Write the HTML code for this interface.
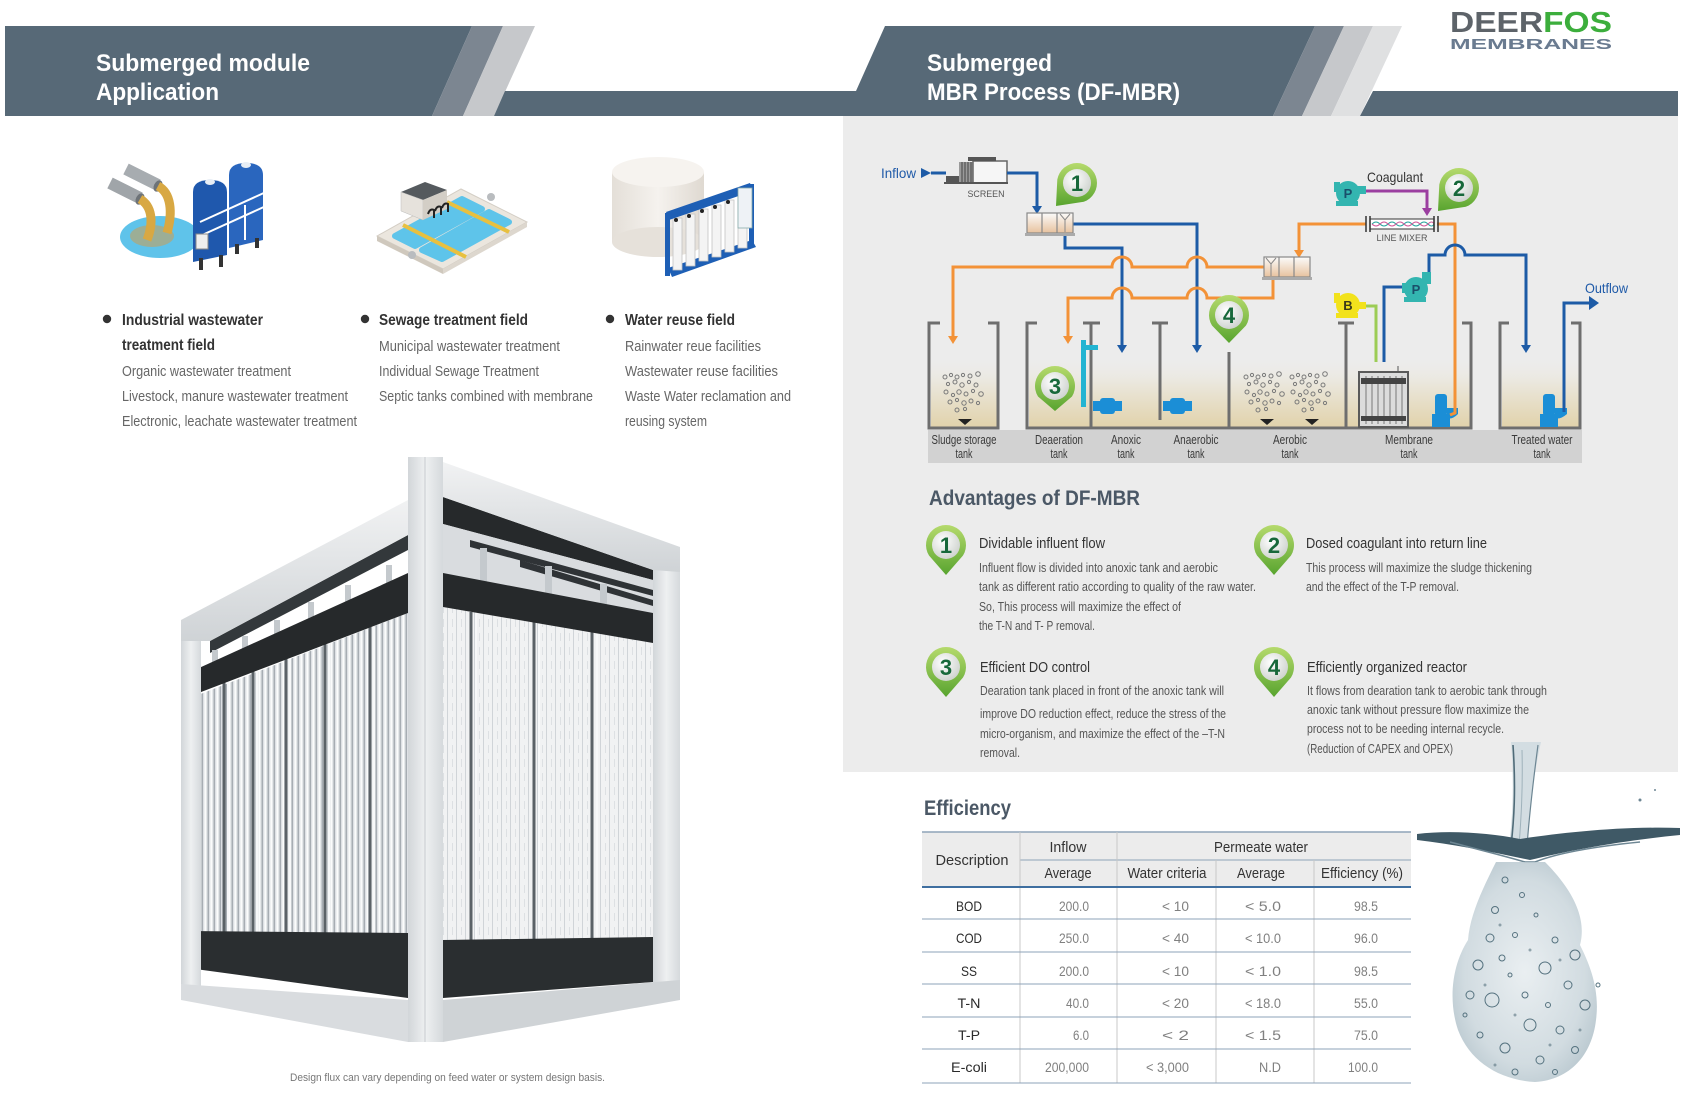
<!DOCTYPE html>
<html><head><meta charset="utf-8"><style>
html,body{margin:0;padding:0;background:#fff;}
svg{display:block;}
text{font-family:"Liberation Sans",Arial,sans-serif;}
</style></head><body>
<svg width="1683" height="1095" viewBox="0 0 1683 1095" xmlns="http://www.w3.org/2000/svg">
<defs>
 <linearGradient id="gpin" x1="0" y1="0" x2="0" y2="1"><stop offset="0" stop-color="#b5da6c"/><stop offset="1" stop-color="#58a42f"/></linearGradient>
 <radialGradient id="gwh" cx="0.4" cy="0.35" r="0.75"><stop offset="0" stop-color="#ffffff"/><stop offset="1" stop-color="#c9cec9"/></radialGradient>
 <linearGradient id="gliq" x1="0" y1="0" x2="0" y2="1"><stop offset="0" stop-color="#ececec" stop-opacity="0"/><stop offset="0.35" stop-color="#ebe8df"/><stop offset="1" stop-color="#e1d2aa"/></linearGradient>
 <linearGradient id="gbox" x1="0" y1="0" x2="0" y2="1"><stop offset="0" stop-color="#fbfbfb"/><stop offset="1" stop-color="#e8c29e"/></linearGradient>
 <linearGradient id="gframe" x1="0" y1="0" x2="1" y2="0"><stop offset="0" stop-color="#d2d6d9"/><stop offset="0.5" stop-color="#eef0f1"/><stop offset="1" stop-color="#d5d9dc"/></linearGradient>
 <linearGradient id="gbeam" x1="0" y1="0" x2="0" y2="1"><stop offset="0" stop-color="#f1f2f3"/><stop offset="1" stop-color="#cfd3d6"/></linearGradient>
 <linearGradient id="gcyl" x1="0" y1="0" x2="1" y2="0"><stop offset="0" stop-color="#e4dfd8"/><stop offset="0.5" stop-color="#f5f2ee"/><stop offset="1" stop-color="#dfd9d1"/></linearGradient>
 <pattern id="ptL" width="6" height="10" patternUnits="userSpaceOnUse"><rect width="6" height="10" fill="#e3e6e9"/><rect x="3.5" width="1.6" height="10" fill="#a7adb3"/><rect x="0.5" width="1.6" height="10" fill="#fbfcfc"/></pattern>
 <pattern id="ptR" width="9" height="14" patternUnits="userSpaceOnUse"><rect width="9" height="14" fill="#f1f2f3"/><rect x="6" width="1" height="14" fill="#d0d4d8"/><rect x="2" y="3" width="1" height="8" fill="#dde0e3"/></pattern>
 <radialGradient id="gsplash" cx="0.5" cy="0.5" r="0.6"><stop offset="0" stop-color="#e6ecef"/><stop offset="0.7" stop-color="#c9d5db"/><stop offset="1" stop-color="#a9bbc4"/></radialGradient>
</defs>

<!-- ================= HEADERS ================= -->
<polygon points="5,26 472,26 432,116 5,116" fill="#576977"/>
<polygon points="472,26 503,26 463,116 432,116" fill="#7c8691"/>
<polygon points="503,26 535,26 494,116 463,116" fill="#c6c8cb"/>
<rect x="843" y="116" width="835" height="656" fill="#ececec"/>
<polygon points="885,26 1315,26 1273,116 494,116 505,91 856,91" fill="#576977"/>
<polygon points="1315,26 1344,26 1302,116 1273,116" fill="#7c8691"/>
<polygon points="1344,26 1373,26 1331,116 1302,116" fill="#c6c8cb"/>
<polygon points="1373,26 1402,26 1360,116 1331,116" fill="#dfe0e1"/>
<polygon points="1373,91 1678,91 1678,116 1360,116" fill="#576977"/>

<text x="96" y="71" font-size="24" font-weight="bold" fill="#fff" textLength="214" lengthAdjust="spacingAndGlyphs">Submerged module</text>
<text x="96" y="100" font-size="24" font-weight="bold" fill="#fff" textLength="123" lengthAdjust="spacingAndGlyphs">Application</text>
<text x="927" y="71" font-size="24" font-weight="bold" fill="#fff" textLength="125" lengthAdjust="spacingAndGlyphs">Submerged</text>
<text x="927" y="100" font-size="24" font-weight="bold" fill="#fff" textLength="253" lengthAdjust="spacingAndGlyphs">MBR Process (DF-MBR)</text>

<text x="1450" y="32" font-size="29" font-weight="bold" textLength="162" lengthAdjust="spacingAndGlyphs"><tspan fill="#5d6369">DEER</tspan><tspan fill="#3cae3c">FOS</tspan></text>
<text x="1450" y="49" font-size="15" font-weight="bold" fill="#6a7b90" textLength="162" lengthAdjust="spacingAndGlyphs">MEMBRANES</text>

<!-- ================= ICONS ================= -->
<ellipse cx="160" cy="237" rx="40" ry="21" fill="#5fc3ea"/>
<ellipse cx="152" cy="236" rx="22" ry="11" fill="#b0a77a" opacity="0.75"/>
<line x1="110" y1="183" x2="140" y2="198" stroke="#a0a5a9" stroke-width="12"/>
<line x1="126" y1="169" x2="158" y2="185" stroke="#a7acb0" stroke-width="12"/>
<ellipse cx="140" cy="199" rx="4" ry="6" fill="#6d7378" transform="rotate(27 140 199)"/>
<ellipse cx="158" cy="186" rx="4" ry="6" fill="#6d7378" transform="rotate(27 158 186)"/>
<path d="M140 199 C152 206 154 222 147 240" stroke="#d8a843" stroke-width="9" fill="none"/>
<path d="M158 186 C171 193 173 212 167 233" stroke="#d8a843" stroke-width="9" fill="none"/>
<path d="M229 175 Q229 163 246 163 Q263 163 263 175 L263 240 L229 248 Z" fill="#2a66be"/>
<path d="M193 192 Q193 180 210 180 Q227 180 227 192 L227 255 L193 262 Z" fill="#1f58ad"/>
<ellipse cx="210" cy="182" rx="5" ry="3" fill="#e8eef5"/>
<ellipse cx="246" cy="165" rx="5" ry="3" fill="#e8eef5"/>
<polyline points="200,236 266,206" stroke="#fff" stroke-width="2" fill="none"/>
<polyline points="200,222 266,192" stroke="#fff" stroke-width="2" fill="none"/>
<line x1="245" y1="205" x2="245" y2="240" stroke="#fff" stroke-width="2"/>
<rect x="199" y="258" width="4" height="12" fill="#333"/><rect x="219" y="255" width="4" height="12" fill="#333"/>
<rect x="235" y="244" width="4" height="10" fill="#333"/><rect x="255" y="238" width="4" height="10" fill="#333"/>
<rect x="196" y="234" width="12" height="15" fill="#eee" stroke="#888"/>

<polygon points="377,236 461,189 527,222 443,269" fill="#ebe6de" stroke="#d3cdc4"/>
<polygon points="377,236 443,269 443,274 377,241" fill="#cfc8bd"/>
<polygon points="443,269 527,222 527,227 443,274" fill="#ddd7ce"/>
<polygon points="395,236 462,199 482,209 415,246" fill="#5ec4ea" stroke="#5ec4ea" stroke-width="6" stroke-linejoin="round"/>
<polygon points="422,250 489,212 509,222 442,259" fill="#5ec4ea" stroke="#5ec4ea" stroke-width="6" stroke-linejoin="round"/>
<line x1="403" y1="225" x2="466" y2="257" stroke="#e8c040" stroke-width="4"/>
<line x1="447" y1="202" x2="509" y2="232" stroke="#e8c040" stroke-width="4"/>
<polygon points="401,192 425,182 447,190 423,200" fill="#555a5e"/>
<polygon points="401,192 423,200 423,220 401,211" fill="#e6e2dc" stroke="#bbb" stroke-width="0.5"/>
<polygon points="423,200 447,190 447,209 423,220" fill="#d3cec6"/>
<path d="M428 214 q2 -6 6 -4 v8 M435 211 q2 -6 6 -4 v8 M442 208 q2 -6 6 -4 v8" stroke="#222" stroke-width="2" fill="none"/>
<circle cx="491" cy="197" r="4" fill="#b9bcbf"/><circle cx="412" cy="255" r="4" fill="#b9bcbf"/>

<rect x="612" y="172" width="92" height="70" fill="url(#gcyl)"/>
<ellipse cx="658" cy="242" rx="46" ry="15" fill="#e6e1da"/>
<ellipse cx="658" cy="172" rx="46" ry="15" fill="#f6f3ef"/>
<polygon points="668,268 752,240 756,247 672,277" fill="#1e5fb5"/>
<g fill="#f4f4f4" stroke="#c4c4c4" stroke-width="0.8">
 <rect x="673" y="218" width="9" height="52"/>
 <rect x="686" y="214" width="9" height="52"/>
 <rect x="699" y="209" width="9" height="52"/>
 <rect x="712" y="205" width="9" height="52"/>
 <rect x="725" y="200" width="9" height="52"/>
 <rect x="738" y="196" width="9" height="52"/>
</g>
<polygon points="666,212 750,183 753,191 669,220" fill="#1e5fb5"/>
<rect x="665" y="213" width="5" height="63" fill="#1e5fb5"/>
<rect x="749" y="184" width="5" height="62" fill="#1e5fb5"/>
<rect x="738" y="188" width="14" height="40" fill="#eef2f6" stroke="#8aa" stroke-width="0.8"/>
<circle cx="676" cy="220" r="2" fill="#222"/><circle cx="689" cy="216" r="2" fill="#222"/><circle cx="702" cy="211" r="2" fill="#222"/><circle cx="715" cy="207" r="2" fill="#222"/><circle cx="728" cy="202" r="2" fill="#222"/>

<!-- ================= LIST ================= -->
<g fill="#333">
 <circle cx="107" cy="319" r="4.2"/><circle cx="365" cy="319" r="4.2"/><circle cx="610" cy="319" r="4.2"/>
</g>
<g font-size="15.5" font-weight="bold" fill="#333">
 <text x="122" y="325" textLength="141" lengthAdjust="spacingAndGlyphs">Industrial wastewater</text>
 <text x="122" y="350" textLength="93" lengthAdjust="spacingAndGlyphs">treatment field</text>
 <text x="379" y="325" textLength="149" lengthAdjust="spacingAndGlyphs">Sewage treatment field</text>
 <text x="625" y="325" textLength="110" lengthAdjust="spacingAndGlyphs">Water reuse field</text>
</g>
<g font-size="14.5" fill="#666">
 <text x="122" y="376" textLength="169" lengthAdjust="spacingAndGlyphs">Organic wastewater treatment</text>
 <text x="122" y="401" textLength="226" lengthAdjust="spacingAndGlyphs">Livestock, manure wastewater treatment</text>
 <text x="122" y="426" textLength="235" lengthAdjust="spacingAndGlyphs">Electronic, leachate wastewater treatment</text>
 <text x="379" y="351" textLength="181" lengthAdjust="spacingAndGlyphs">Municipal wastewater treatment</text>
 <text x="379" y="376" textLength="160" lengthAdjust="spacingAndGlyphs">Individual Sewage Treatment</text>
 <text x="379" y="401" textLength="214" lengthAdjust="spacingAndGlyphs">Septic tanks combined with membrane</text>
 <text x="625" y="351" textLength="136" lengthAdjust="spacingAndGlyphs">Rainwater reue facilities</text>
 <text x="625" y="376" textLength="153" lengthAdjust="spacingAndGlyphs">Wastewater reuse facilities</text>
 <text x="625" y="401" textLength="166" lengthAdjust="spacingAndGlyphs">Waste Water reclamation and</text>
 <text x="625" y="426" textLength="82" lengthAdjust="spacingAndGlyphs">reusing system</text>
</g>

<!-- ================= MODULE ================= -->
<g>
 <!-- back structure left -->
 <polygon points="210,641 408,535 408,550 210,653" fill="#33383b"/>
 <!-- back structure right -->
 <polygon points="443,497 653,570 653,580 443,524" fill="#26292b"/>
 <polygon points="443,524 653,580 653,614 443,574" fill="#d9dcdf"/>
 <polygon points="470,540 653,590 653,596 470,547" fill="#2f3336"/>
 <polygon points="520,560 653,600 653,606 520,567" fill="#2f3336"/>
 <g fill="#c4c9cd">
  <rect x="212" y="650" width="6" height="32"/><rect x="242" y="636" width="6" height="36"/><rect x="274" y="620" width="6" height="40"/>
  <rect x="308" y="602" width="6" height="42"/><rect x="345" y="585" width="6" height="42"/><rect x="386" y="565" width="6" height="40"/>
  <rect x="480" y="548" width="7" height="38"/><rect x="545" y="566" width="7" height="40"/><rect x="600" y="584" width="7" height="38"/>
 </g>
 <polygon points="198,695 408,613 408,935 198,933" fill="url(#ptL)"/>
 <polygon points="443,607 653,642 653,940 443,943" fill="url(#ptR)"/>
 <g stroke="#5b6267" stroke-width="3">
  <line x1="224" y1="682" x2="224" y2="933"/><line x1="253" y1="671" x2="253" y2="933"/><line x1="286" y1="659" x2="286" y2="933"/>
  <line x1="325" y1="644" x2="325" y2="934"/><line x1="370" y1="627" x2="370" y2="934"/>
  <line x1="471" y1="612" x2="471" y2="942"/><line x1="534" y1="622" x2="534" y2="941"/><line x1="592" y1="632" x2="592" y2="940"/>
 </g>
 <g stroke="#f7f8f9" stroke-width="2">
  <line x1="228" y1="682" x2="228" y2="933"/><line x1="257" y1="671" x2="257" y2="933"/><line x1="290" y1="659" x2="290" y2="933"/>
  <line x1="329" y1="644" x2="329" y2="934"/><line x1="374" y1="627" x2="374" y2="934"/>
  <line x1="476" y1="612" x2="476" y2="942"/><line x1="539" y1="622" x2="539" y2="941"/><line x1="597" y1="632" x2="597" y2="940"/>
 </g>
 <polygon points="188,673 408,573 408,613 188,697" fill="#26292b"/>
 <polygon points="443,573 653,613 653,643 443,607" fill="#26292b"/>
 <polygon points="188,931 408,933 408,998 188,968" fill="#2a2e30"/>
 <polygon points="443,940 653,937 653,982 443,998" fill="#2a2e30"/>
 <!-- frame -->
 <rect x="181" y="620" width="20" height="380" fill="url(#gframe)"/>
 <rect x="653" y="547" width="27" height="453" fill="url(#gframe)"/>
 <polygon points="181,620 408,500 408,535 210,641 181,641" fill="url(#gbeam)"/>
 <polygon points="443,462 680,547 680,572 653,570 443,497" fill="url(#gbeam)"/>
 <polygon points="181,984 408,1000 408,1042 181,1000" fill="#d9dcdf"/>
 <polygon points="443,1000 680,980 680,1000 443,1042" fill="#cfd3d6"/>
 <rect x="408" y="457" width="35" height="585" fill="url(#gframe)"/>
 <line x1="425" y1="457" x2="425" y2="1042" stroke="#c7cbcf" stroke-width="1"/>
</g>
<text x="290" y="1081" font-size="11" fill="#777" textLength="315" lengthAdjust="spacingAndGlyphs">Design flux can vary depending on feed water or system design basis.</text>

<!-- ================= PROCESS DIAGRAM ================= -->
<rect x="931" y="355" width="66" height="73" fill="url(#gliq)"/>
<rect x="1029" y="355" width="441" height="73" fill="url(#gliq)"/>
<rect x="1502" y="355" width="77" height="73" fill="url(#gliq)"/>
<rect x="928" y="430" width="654" height="33" fill="#d2d2d2"/>

<g stroke="#6e6e6e" stroke-width="3" fill="none">
 <polyline points="940,323 929,323 929,428 998,428 998,323 988,323"/>
 <polyline points="1037,323 1027,323 1027,428 1471,428 1471,323 1462,323"/>
 <line x1="1091" y1="323" x2="1091" y2="428"/><line x1="1083" y1="323" x2="1100" y2="323"/>
 <line x1="1160" y1="323" x2="1160" y2="420"/><line x1="1152" y1="323" x2="1168" y2="323"/>
 <line x1="1229" y1="352" x2="1229" y2="428"/>
 <line x1="1346" y1="323" x2="1346" y2="428"/><line x1="1338" y1="323" x2="1354" y2="323"/>
 <polyline points="1509,323 1500,323 1500,428 1580,428 1580,323 1571,323"/>
</g>

<g id="bub" fill="none" stroke="#7a7a7a" stroke-width="1">
 <circle cx="945" cy="377" r="2"/><circle cx="951" cy="375" r="1.6"/><circle cx="957" cy="377" r="2"/><circle cx="963" cy="375" r="1.6"/><circle cx="970" cy="376" r="2"/><circle cx="978" cy="374" r="2.3"/>
 <circle cx="948" cy="384" r="1.6"/><circle cx="955" cy="382" r="2"/><circle cx="962" cy="385" r="2.2"/><circle cx="969" cy="382" r="1.6"/><circle cx="976" cy="385" r="2"/>
 <circle cx="946" cy="392" r="2"/><circle cx="953" cy="395" r="1.6"/><circle cx="959" cy="392" r="2.2"/><circle cx="966" cy="394" r="2"/><circle cx="973" cy="391" r="1.6"/><circle cx="981" cy="394" r="2.3"/>
 <circle cx="950" cy="402" r="2"/><circle cx="957" cy="400" r="1.6"/><circle cx="964" cy="403" r="2.2"/><circle cx="971" cy="401" r="2"/><circle cx="978" cy="403" r="1.6"/>
 <circle cx="957" cy="410" r="2"/><circle cx="965" cy="409" r="1.6"/>
</g>
<use href="#bub" transform="translate(301,0)"/>
<use href="#bub" transform="translate(347,0)"/>
<g fill="#222">
 <polygon points="958,419 972,419 965,425"/>
 <polygon points="1260,419 1274,419 1267,425"/>
 <polygon points="1305,419 1319,419 1312,425"/>
</g>

<rect x="1081" y="340" width="5" height="67" fill="#22b4d2"/>
<rect x="1081" y="345" width="17" height="5" fill="#22b4d2"/>
<g fill="#1b8ed6">
 <rect x="1093" y="401" width="7" height="10"/><rect x="1100" y="398" width="15" height="16" rx="3"/><rect x="1115" y="401" width="7" height="10"/>
 <rect x="1163" y="401" width="7" height="10"/><rect x="1170" y="398" width="15" height="16" rx="3"/><rect x="1185" y="401" width="7" height="10"/>
</g>
<rect x="1359" y="372" width="49" height="55" fill="#dcdcdc" stroke="#5a5a5a" stroke-width="2"/>
<g stroke="#777" stroke-width="1">
 <line x1="1366" y1="376" x2="1366" y2="424"/><line x1="1372" y1="376" x2="1372" y2="424"/><line x1="1378" y1="376" x2="1378" y2="424"/><line x1="1384" y1="376" x2="1384" y2="424"/><line x1="1390" y1="376" x2="1390" y2="424"/><line x1="1396" y1="376" x2="1396" y2="424"/><line x1="1402" y1="376" x2="1402" y2="424"/>
</g>
<rect x="1361" y="378" width="45" height="6" fill="#444"/>
<rect x="1361" y="416" width="45" height="5" fill="#444"/>
<line x1="1398" y1="366" x2="1398" y2="372" stroke="#555" stroke-width="1"/>
<g fill="#1b8ed6">
 <rect x="1435" y="394" width="12" height="22" rx="3"/><rect x="1432" y="414" width="18" height="13"/><path d="M1447 408 L1458 408 L1458 414 Q1452 420 1447 418 Z"/>
 <rect x="1543" y="394" width="12" height="22" rx="3"/><rect x="1540" y="414" width="18" height="13"/><path d="M1555 408 L1567 408 L1567 414 Q1560 420 1555 418 Z"/>
</g>

<rect x="946" y="176" width="14" height="7" fill="#555"/>
<rect x="959" y="162" width="14" height="21" fill="#9a9a9a"/>
<g stroke="#444" stroke-width="1"><line x1="962" y1="162" x2="962" y2="183"/><line x1="965" y1="162" x2="965" y2="183"/><line x1="968" y1="162" x2="968" y2="183"/><line x1="971" y1="162" x2="971" y2="183"/></g>
<rect x="973" y="161" width="34" height="22" fill="#f6f6f6" stroke="#666" stroke-width="1.5"/>
<rect x="968" y="157" width="28" height="4" fill="#555"/>
<line x1="944" y1="183" x2="1008" y2="183" stroke="#555" stroke-width="2"/>
<text x="986" y="197" font-size="9.5" fill="#555" text-anchor="middle" textLength="37" lengthAdjust="spacingAndGlyphs">SCREEN</text>

<text x="881" y="178" font-size="14" fill="#1f5aa8" textLength="35" lengthAdjust="spacingAndGlyphs">Inflow</text>
<polygon points="921,168 931,173 921,178" fill="#1d5ba6"/>

<g fill="none" stroke-width="3">
 <polyline points="931,173 946,173" stroke="#1d5ba6"/>
 <polyline points="1007,173 1037,173 1037,207" stroke="#1d5ba6"/>
 <polyline points="1073,224 1197,224 1197,346" stroke="#1d5ba6"/>
 <polyline points="1065,236 1065,248 1122,248 1122,346" stroke="#1d5ba6"/>
 <path d="M1264 267 L1207 267 A10 10 0 0 0 1187 267 L1132 267 A10 10 0 0 0 1112 267 L953 267 L953 337" stroke="#f39237"/>
 <path d="M1273 279 L1273 298 L1207 298 A10 10 0 0 0 1187 298 L1132 298 A10 10 0 0 0 1112 298 L1068 298 L1068 337" stroke="#f39237"/>
 <polyline points="1366,224 1299,224 1299,251" stroke="#f39237"/>
 <polyline points="1437,224 1455,224 1455,413 1450,415" stroke="#f39237"/>
 <path d="M1429 272 L1429 255 L1445 255 A10 10 0 0 1 1465 255 L1526 255 L1526 346" stroke="#1d5ba6"/>
 <polyline points="1403,287 1384,287 1384,362" stroke="#1d5ba6"/>
 <polyline points="1365,306 1376,306 1376,362" stroke="#9ccc55"/>
 <polyline points="1365,191 1427,191 1427,209" stroke="#9b3fa0"/>
 <polyline points="1564,412 1564,303 1590,303" stroke="#1d5ba6"/>
</g>
<g>
 <polygon points="1032,206 1042,206 1037,214" fill="#1d5ba6"/>
 <polygon points="1192,345 1202,345 1197,353" fill="#1d5ba6"/>
 <polygon points="1117,345 1127,345 1122,353" fill="#1d5ba6"/>
 <polygon points="1521,345 1531,345 1526,353" fill="#1d5ba6"/>
 <polygon points="948,336 958,336 953,344" fill="#f39237"/>
 <polygon points="1063,336 1073,336 1068,344" fill="#f39237"/>
 <polygon points="1294,250 1304,250 1299,258" fill="#f39237"/>
 <polygon points="1422,208 1432,208 1427,216" fill="#9b3fa0"/>
 <polygon points="1589,296 1599,303 1589,310" fill="#1d5ba6"/>
</g>

<g stroke="#888" stroke-width="1.2">
 <rect x="1027" y="213" width="46" height="20" fill="url(#gbox)"/>
 <line x1="1042" y1="213" x2="1042" y2="233"/><line x1="1057" y1="213" x2="1057" y2="233"/>
 <rect x="1264" y="257" width="46" height="20" fill="url(#gbox)"/>
 <line x1="1279" y1="257" x2="1279" y2="277"/><line x1="1294" y1="257" x2="1294" y2="277"/>
</g>
<path d="M1060 214 L1065 220 L1070 214 M1065 220 L1065 232" stroke="#888" stroke-width="1" fill="none"/>
<path d="M1266 258 L1271 264 L1276 258 M1271 264 L1271 276" stroke="#888" stroke-width="1" fill="none"/>
<rect x="1025" y="233" width="50" height="3" fill="#aaa"/>
<rect x="1262" y="277" width="50" height="3" fill="#aaa"/>

<rect x="1370" y="219" width="64" height="10" fill="#fff" stroke="#555" stroke-width="1.2"/>
<path d="M1372 224 q4 -4 8 0 t8 0 t8 0 t8 0 t8 0 t8 0 t8 0 t6 0" stroke="#2aa7a0" stroke-width="1" fill="none"/>
<path d="M1372 224 q4 4 8 0 t8 0 t8 0 t8 0 t8 0 t8 0 t8 0 t6 0" stroke="#d05a9a" stroke-width="1" fill="none"/>
<g stroke="#333" stroke-width="1.5"><line x1="1366" y1="216" x2="1366" y2="232"/><line x1="1370" y1="216" x2="1370" y2="232"/><line x1="1434" y1="216" x2="1434" y2="232"/><line x1="1438" y1="216" x2="1438" y2="232"/></g>
<text x="1402" y="241" font-size="9.5" fill="#555" text-anchor="middle" textLength="51" lengthAdjust="spacingAndGlyphs">LINE MIXER</text>
<text x="1367" y="182" font-size="14" fill="#333" textLength="56" lengthAdjust="spacingAndGlyphs">Coagulant</text>

<g fill="#33b5b0">
 <circle cx="1348" cy="193" r="12"/><rect x="1354" y="186" width="12" height="8"/><rect x="1336" y="201" width="22" height="5"/><rect x="1334" y="182" width="6" height="10"/>
 <circle cx="1416" cy="289" r="12"/><rect x="1422" y="272" width="9" height="12"/><rect x="1404" y="297" width="22" height="5"/><rect x="1402" y="283" width="6" height="10"/>
</g>
<text x="1348" y="198" font-size="13" font-weight="bold" fill="#1a4f6a" text-anchor="middle">P</text>
<text x="1416" y="294" font-size="13" font-weight="bold" fill="#1a4f6a" text-anchor="middle">P</text>
<g fill="#f2e21c">
 <circle cx="1348" cy="305" r="12"/><rect x="1354" y="302" width="12" height="7"/><rect x="1336" y="313" width="22" height="5"/><rect x="1334" y="293" width="6" height="10"/>
</g>
<text x="1348" y="310" font-size="13" font-weight="bold" fill="#3a3a1a" text-anchor="middle">B</text>

<text x="1585" y="293" font-size="14" fill="#1f5aa8" textLength="43" lengthAdjust="spacingAndGlyphs">Outflow</text>

<g font-size="12.5" fill="#3a3a3a" text-anchor="middle">
 <text x="964" y="444" textLength="65" lengthAdjust="spacingAndGlyphs">Sludge storage</text>
 <text x="964" y="458" textLength="17" lengthAdjust="spacingAndGlyphs">tank</text>
 <text x="1059" y="444" textLength="48" lengthAdjust="spacingAndGlyphs">Deaeration</text>
 <text x="1059" y="458" textLength="17" lengthAdjust="spacingAndGlyphs">tank</text>
 <text x="1126" y="444" textLength="30" lengthAdjust="spacingAndGlyphs">Anoxic</text>
 <text x="1126" y="458" textLength="17" lengthAdjust="spacingAndGlyphs">tank</text>
 <text x="1196" y="444" textLength="45" lengthAdjust="spacingAndGlyphs">Anaerobic</text>
 <text x="1196" y="458" textLength="17" lengthAdjust="spacingAndGlyphs">tank</text>
 <text x="1290" y="444" textLength="34" lengthAdjust="spacingAndGlyphs">Aerobic</text>
 <text x="1290" y="458" textLength="17" lengthAdjust="spacingAndGlyphs">tank</text>
 <text x="1409" y="444" textLength="48" lengthAdjust="spacingAndGlyphs">Membrane</text>
 <text x="1409" y="458" textLength="17" lengthAdjust="spacingAndGlyphs">tank</text>
 <text x="1542" y="444" textLength="61" lengthAdjust="spacingAndGlyphs">Treated water</text>
 <text x="1542" y="458" textLength="17" lengthAdjust="spacingAndGlyphs">tank</text>
</g>

<g transform="translate(1077,183)">
 <path d="M-19.7 -3.5 A20 20 0 1 1 6.8 18.8 L-21 23 Z" fill="url(#gpin)"/>
 <circle r="14" fill="url(#gwh)"/>
 <text y="8" text-anchor="middle" font-size="22" font-weight="bold" fill="#17683a">1</text>
</g>
<g transform="translate(1459,188)">
 <path d="M-19.7 -3.5 A20 20 0 1 1 6.8 18.8 L-21 23 Z" fill="url(#gpin)"/>
 <circle r="14" fill="url(#gwh)"/>
 <text y="8" text-anchor="middle" font-size="22" font-weight="bold" fill="#17683a">2</text>
</g>
<g transform="translate(1055,386)">
 <path d="M-17 10.5 A20 20 0 1 1 17 10.5 L0 25 Z" fill="url(#gpin)"/>
 <circle r="14" fill="url(#gwh)"/>
 <text y="8" text-anchor="middle" font-size="22" font-weight="bold" fill="#17683a">3</text>
</g>
<g transform="translate(1229,315)">
 <path d="M-17 10.5 A20 20 0 1 1 17 10.5 L0 28 Z" fill="url(#gpin)"/>
 <circle r="14" fill="url(#gwh)"/>
 <text y="8" text-anchor="middle" font-size="22" font-weight="bold" fill="#17683a">4</text>
</g>

<!-- ================= ADVANTAGES ================= -->
<text x="929" y="505" font-size="21" font-weight="bold" fill="#4b5866" textLength="211" lengthAdjust="spacingAndGlyphs">Advantages of DF-MBR</text>

<g transform="translate(946,545)">
 <path d="M-17 10.5 A20 20 0 1 1 17 10.5 L0 30 Z" fill="url(#gpin)"/>
 <circle r="14" fill="url(#gwh)"/>
 <text y="8" text-anchor="middle" font-size="22" font-weight="bold" fill="#17683a">1</text>
</g>
<g transform="translate(1274,545)">
 <path d="M-17 10.5 A20 20 0 1 1 17 10.5 L0 30 Z" fill="url(#gpin)"/>
 <circle r="14" fill="url(#gwh)"/>
 <text y="8" text-anchor="middle" font-size="22" font-weight="bold" fill="#17683a">2</text>
</g>
<g transform="translate(946,667)">
 <path d="M-17 10.5 A20 20 0 1 1 17 10.5 L0 30 Z" fill="url(#gpin)"/>
 <circle r="14" fill="url(#gwh)"/>
 <text y="8" text-anchor="middle" font-size="22" font-weight="bold" fill="#17683a">3</text>
</g>
<g transform="translate(1274,667)">
 <path d="M-17 10.5 A20 20 0 1 1 17 10.5 L0 30 Z" fill="url(#gpin)"/>
 <circle r="14" fill="url(#gwh)"/>
 <text y="8" text-anchor="middle" font-size="22" font-weight="bold" fill="#17683a">4</text>
</g>

<g font-size="15" fill="#333">
 <text x="979" y="548" textLength="126" lengthAdjust="spacingAndGlyphs">Dividable influent flow</text>
 <text x="1306" y="548" textLength="181" lengthAdjust="spacingAndGlyphs">Dosed coagulant into return line</text>
 <text x="980" y="672" textLength="110" lengthAdjust="spacingAndGlyphs">Efficient DO control</text>
 <text x="1307" y="672" textLength="160" lengthAdjust="spacingAndGlyphs">Efficiently organized reactor</text>
</g>
<g font-size="13" fill="#555">
 <text x="979" y="572" textLength="239" lengthAdjust="spacingAndGlyphs">Influent flow is divided into anoxic tank and aerobic</text>
 <text x="979" y="591" textLength="277" lengthAdjust="spacingAndGlyphs">tank as different ratio according to quality of the raw water.</text>
 <text x="979" y="611" textLength="202" lengthAdjust="spacingAndGlyphs">So, This process will maximize the effect of</text>
 <text x="979" y="630" textLength="116" lengthAdjust="spacingAndGlyphs">the T-N and T- P removal.</text>
 <text x="1306" y="572" textLength="226" lengthAdjust="spacingAndGlyphs">This process will maximize the sludge thickening</text>
 <text x="1306" y="591" textLength="153" lengthAdjust="spacingAndGlyphs">and the effect of the T-P removal.</text>
 <text x="980" y="695" textLength="244" lengthAdjust="spacingAndGlyphs">Dearation tank placed in front of the anoxic tank will</text>
 <text x="980" y="718" textLength="246" lengthAdjust="spacingAndGlyphs">improve DO reduction effect, reduce the stress of the</text>
 <text x="980" y="738" textLength="245" lengthAdjust="spacingAndGlyphs">micro-organism, and maximize the effect of the –T-N</text>
 <text x="980" y="757" textLength="40" lengthAdjust="spacingAndGlyphs">removal.</text>
 <text x="1307" y="695" textLength="240" lengthAdjust="spacingAndGlyphs">It flows from dearation tank to aerobic tank through</text>
 <text x="1307" y="714" textLength="222" lengthAdjust="spacingAndGlyphs">anoxic tank without pressure flow maximize the</text>
 <text x="1307" y="733" textLength="197" lengthAdjust="spacingAndGlyphs">process not to be needing internal recycle.</text>
 <text x="1307" y="753" textLength="146" lengthAdjust="spacingAndGlyphs">(Reduction of CAPEX and OPEX)</text>
</g>

<!-- ================= SPLASH ================= -->
<g>
 <path d="M1511 742 C1514 780 1513 815 1509 846 L1527 846 C1529 812 1533 778 1541 742 Z" fill="#d3dde2"/>
 <path d="M1513 745 C1516 790 1514 820 1511 846" stroke="#4f6b78" stroke-width="1.6" fill="none"/>
 <path d="M1538 745 C1532 790 1529 820 1527 846" stroke="#6d8693" stroke-width="1.2" fill="none"/>
 <path d="M1522 750 C1523 790 1521 820 1519 846" stroke="#9fb2bb" stroke-width="1" fill="none"/>
 <path d="M1417 834 C1450 830 1490 833 1520 839 C1560 833 1620 826 1680 828 L1680 835 C1620 841 1572 850 1530 860 C1492 852 1452 844 1417 840 Z" fill="#3f5966"/>
 <path d="M1450 842 C1480 850 1505 856 1525 862 L1535 862 C1560 852 1600 846 1640 842" stroke="#6d8693" stroke-width="1.5" fill="none"/>
 <path d="M1496 862 C1482 890 1470 915 1468 940 C1452 965 1448 1000 1458 1030 C1470 1062 1500 1080 1535 1082 C1570 1080 1592 1055 1596 1020 C1600 990 1590 965 1580 945 C1588 915 1568 885 1545 862 Z" fill="url(#gsplash)" opacity="0.85"/>
 <g fill="none" stroke="#55727f" stroke-width="1">
  <circle cx="1505" cy="880" r="3"/><circle cx="1522" cy="895" r="2.5"/><circle cx="1495" cy="910" r="3.5"/><circle cx="1536" cy="915" r="2"/>
  <circle cx="1490" cy="938" r="4"/><circle cx="1515" cy="935" r="2.5"/><circle cx="1555" cy="940" r="3"/><circle cx="1575" cy="955" r="5"/>
  <circle cx="1478" cy="965" r="5"/><circle cx="1502" cy="958" r="3"/><circle cx="1545" cy="968" r="6"/><circle cx="1568" cy="985" r="4"/>
  <circle cx="1585" cy="1005" r="5"/><circle cx="1470" cy="995" r="4"/><circle cx="1492" cy="1000" r="7"/><circle cx="1525" cy="995" r="3"/>
  <circle cx="1530" cy="1025" r="6"/><circle cx="1560" cy="1030" r="4"/><circle cx="1575" cy="1050" r="3.5"/><circle cx="1480" cy="1035" r="3"/>
  <circle cx="1505" cy="1048" r="5"/><circle cx="1540" cy="1060" r="4"/><circle cx="1515" cy="1072" r="3"/><circle cx="1555" cy="1072" r="2.5"/>
  <circle cx="1465" cy="1015" r="2"/><circle cx="1598" cy="985" r="2"/><circle cx="1510" cy="975" r="2"/><circle cx="1548" cy="1005" r="2.5"/>
 </g>
 <g fill="#4f6b78" opacity="0.55">
  <circle cx="1500" cy="925" r="1.5"/><circle cx="1530" cy="950" r="1.5"/><circle cx="1560" cy="960" r="1.5"/><circle cx="1485" cy="985" r="1.5"/>
  <circle cx="1515" cy="1015" r="1.5"/><circle cx="1550" cy="1045" r="1.5"/><circle cx="1580" cy="1030" r="1.5"/><circle cx="1495" cy="1065" r="1.5"/>
 </g>
 <circle cx="1640" cy="800" r="1.5" fill="#6d8693"/><circle cx="1655" cy="790" r="1" fill="#6d8693"/>
</g>

<!-- ================= EFFICIENCY TABLE ================= -->
<text x="924" y="815" font-size="21" font-weight="bold" fill="#4b5866" textLength="87" lengthAdjust="spacingAndGlyphs">Efficiency</text>
<rect x="922" y="832" width="489" height="55" fill="#ececec"/>
<line x1="922" y1="832" x2="1411" y2="832" stroke="#8ea3b8" stroke-width="1.5"/>
<line x1="1020" y1="860" x2="1411" y2="860" stroke="#8ea3b8" stroke-width="1"/>
<g stroke="#c8c8c8" stroke-width="1">
 <line x1="1020" y1="832" x2="1020" y2="1083"/>
 <line x1="1117" y1="832" x2="1117" y2="1083"/>
 <line x1="1216" y1="860" x2="1216" y2="1083"/>
 <line x1="1314" y1="860" x2="1314" y2="1083"/>
</g>
<line x1="922" y1="887" x2="1411" y2="887" stroke="#3f6fa0" stroke-width="2"/>
<g stroke="#8ea3b8" stroke-width="1">
 <line x1="922" y1="919" x2="1411" y2="919"/><line x1="922" y1="952" x2="1411" y2="952"/><line x1="922" y1="984" x2="1411" y2="984"/>
 <line x1="922" y1="1017" x2="1411" y2="1017"/><line x1="922" y1="1049" x2="1411" y2="1049"/><line x1="922" y1="1083" x2="1411" y2="1083"/>
</g>
<g font-size="14.5" fill="#333" text-anchor="middle">
 <text x="972" y="865" textLength="73" lengthAdjust="spacingAndGlyphs">Description</text>
 <text x="1068" y="852" textLength="37" lengthAdjust="spacingAndGlyphs">Inflow</text>
 <text x="1261" y="852" textLength="94" lengthAdjust="spacingAndGlyphs">Permeate water</text>
 <text x="1068" y="878" textLength="47" lengthAdjust="spacingAndGlyphs">Average</text>
 <text x="1167" y="878" textLength="79" lengthAdjust="spacingAndGlyphs">Water criteria</text>
 <text x="1261" y="878" textLength="48" lengthAdjust="spacingAndGlyphs">Average</text>
 <text x="1362" y="878" textLength="82" lengthAdjust="spacingAndGlyphs">Efficiency (%)</text>
</g>
<g font-size="14" fill="#2a2a2a" text-anchor="middle">
 <text x="969" y="911" textLength="26" lengthAdjust="spacingAndGlyphs">BOD</text>
 <text x="969" y="943" textLength="26" lengthAdjust="spacingAndGlyphs">COD</text>
 <text x="969" y="976" textLength="16" lengthAdjust="spacingAndGlyphs">SS</text>
 <text x="969" y="1008" textLength="23" lengthAdjust="spacingAndGlyphs">T-N</text>
 <text x="969" y="1040" textLength="22" lengthAdjust="spacingAndGlyphs">T-P</text>
 <text x="969" y="1072" textLength="36" lengthAdjust="spacingAndGlyphs">E-coli</text>
</g>
<g font-size="13.5" fill="#808080" text-anchor="end">
 <text x="1089" y="911" textLength="30" lengthAdjust="spacingAndGlyphs">200.0</text>
 <text x="1089" y="943" textLength="30" lengthAdjust="spacingAndGlyphs">250.0</text>
 <text x="1089" y="976" textLength="30" lengthAdjust="spacingAndGlyphs">200.0</text>
 <text x="1089" y="1008" textLength="23" lengthAdjust="spacingAndGlyphs">40.0</text>
 <text x="1089" y="1040" textLength="16" lengthAdjust="spacingAndGlyphs">6.0</text>
 <text x="1089" y="1072" textLength="44" lengthAdjust="spacingAndGlyphs">200,000</text>
 <text x="1189" y="911" textLength="27" lengthAdjust="spacingAndGlyphs">&lt; 10</text>
 <text x="1189" y="943" textLength="27" lengthAdjust="spacingAndGlyphs">&lt; 40</text>
 <text x="1189" y="976" textLength="27" lengthAdjust="spacingAndGlyphs">&lt; 10</text>
 <text x="1189" y="1008" textLength="27" lengthAdjust="spacingAndGlyphs">&lt; 20</text>
 <text x="1189" y="1040" textLength="27" lengthAdjust="spacingAndGlyphs">&lt;   2</text>
 <text x="1189" y="1072" textLength="43" lengthAdjust="spacingAndGlyphs">&lt; 3,000</text>
 <text x="1281" y="911" textLength="36" lengthAdjust="spacingAndGlyphs">&lt;  5.0</text>
 <text x="1281" y="943" textLength="36" lengthAdjust="spacingAndGlyphs">&lt; 10.0</text>
 <text x="1281" y="976" textLength="36" lengthAdjust="spacingAndGlyphs">&lt;  1.0</text>
 <text x="1281" y="1008" textLength="36" lengthAdjust="spacingAndGlyphs">&lt; 18.0</text>
 <text x="1281" y="1040" textLength="36" lengthAdjust="spacingAndGlyphs">&lt;  1.5</text>
 <text x="1281" y="1072" textLength="22" lengthAdjust="spacingAndGlyphs">N.D</text>
 <text x="1378" y="911" textLength="24" lengthAdjust="spacingAndGlyphs">98.5</text>
 <text x="1378" y="943" textLength="24" lengthAdjust="spacingAndGlyphs">96.0</text>
 <text x="1378" y="976" textLength="24" lengthAdjust="spacingAndGlyphs">98.5</text>
 <text x="1378" y="1008" textLength="24" lengthAdjust="spacingAndGlyphs">55.0</text>
 <text x="1378" y="1040" textLength="24" lengthAdjust="spacingAndGlyphs">75.0</text>
 <text x="1378" y="1072" textLength="30" lengthAdjust="spacingAndGlyphs">100.0</text>
</g>
</svg>
</body></html>
